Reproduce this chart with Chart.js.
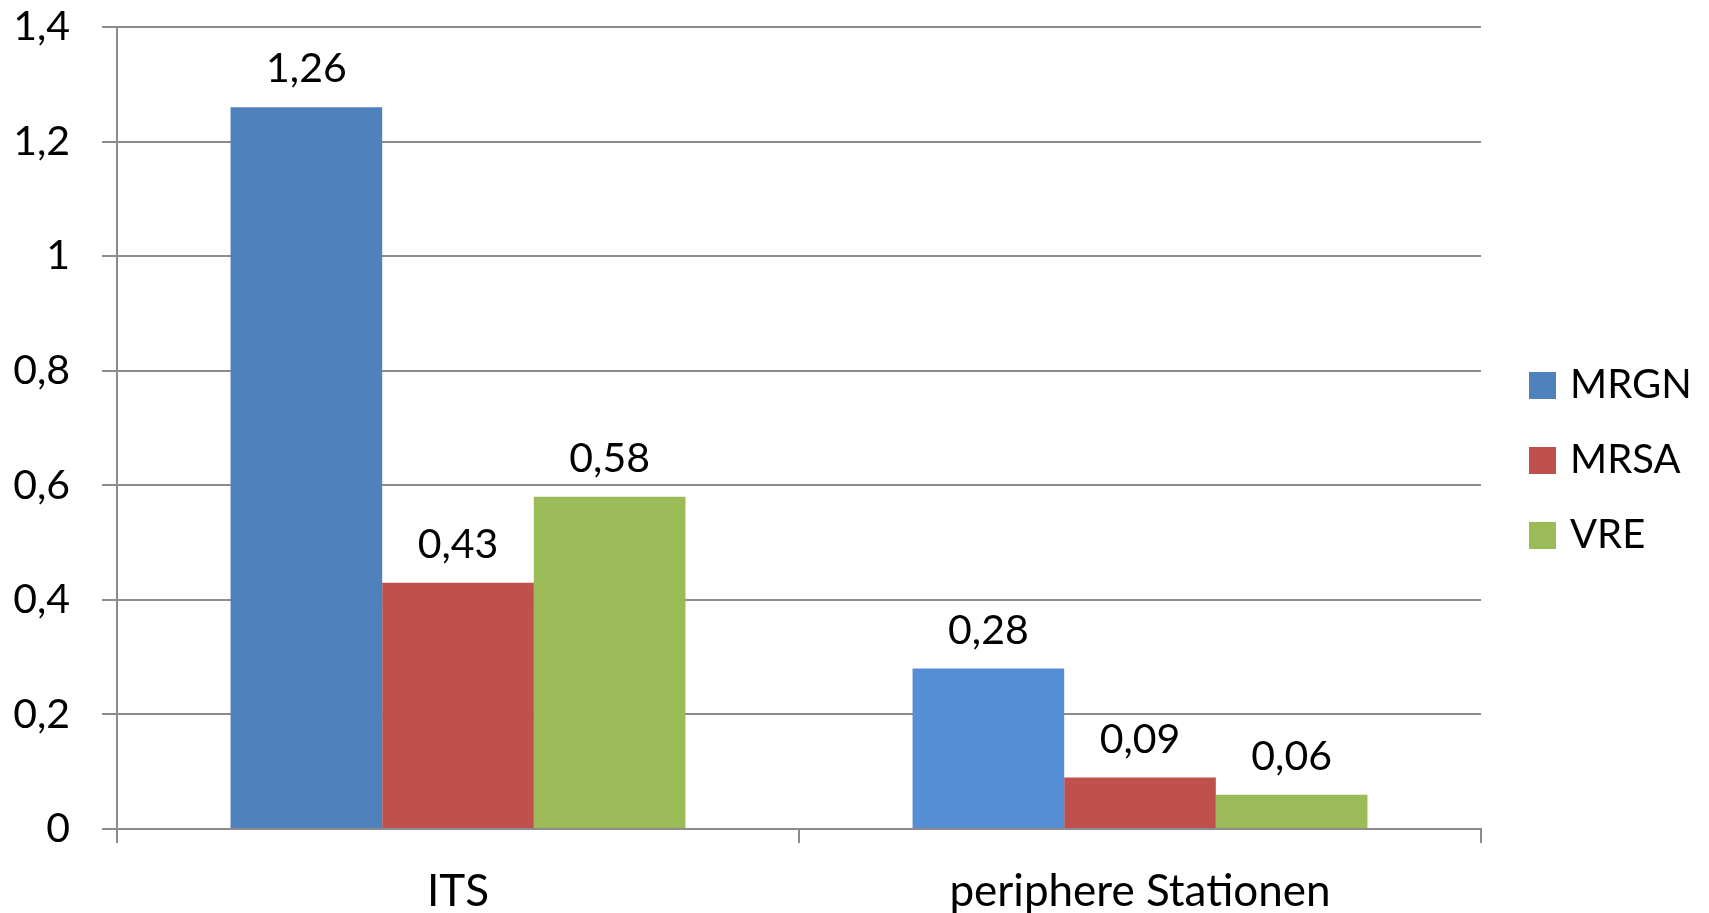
<!DOCTYPE html>
<html>
<head>
<meta charset="utf-8">
<script src="https://cdn.jsdelivr.net/npm/chart.js@4/dist/chart.umd.min.js"></script>
<style>
  html, body { margin: 0; padding: 0; background: #fff; }
  #wrap { width: 1709px; height: 913px; }
</style>
</head>
<body>
<div id="wrap"><canvas id="chart"></canvas></div>
<script>
// Data
const categories = ["ITS", "periphere Stationen"];
const seriesNames = ["MRGN", "MRSA", "VRE"];
const seriesColors = ["#4F81BD", "#C0504D", "#9BBB59"];
const mrgnValues = [1.26, 0.28];
const mrsaValues = [0.43, 0.09];
const vreValues = [0.58, 0.06];
const yTicks = [0, 0.2, 0.4, 0.6, 0.8, 1, 1.2, 1.4];

const FAMILY = "Lato, 'Open Sans', sans-serif";
const FONT = { family: FAMILY, size: 41 };
const GRID = "#8c8c8c";

// German decimal comma
const fmt = (v, digits) => {
  const s = digits === undefined ? String(Math.round(v * 10) / 10) : v.toFixed(digits);
  return s.replace(".", ",");
};

// Value labels above each bar (no datalabels plugin available offline)
const valueLabels = {
  id: "valueLabels",
  afterDatasetsDraw(chart) {
    const ctx = chart.ctx;
    ctx.save();
    ctx.font = `${FONT.size}px ${FAMILY}`;
    ctx.fillStyle = "#000";
    ctx.textAlign = "center";
    ctx.textBaseline = "middle";
    chart.data.datasets.forEach((ds, i) => {
      chart.getDatasetMeta(i).data.forEach((bar, j) => {
        ctx.fillText(fmt(ds.data[j], 2), bar.x, bar.y - 38);
      });
    });
    ctx.restore();
  },
};

// Legend drawn by hand so the gap to the plot area matches the original
const sideLegend = {
  id: "sideLegend",
  afterDraw(chart) {
    const ctx = chart.ctx;
    const n = chart.data.datasets.length;
    const step = 75, box = 27, x = 1529;
    const y0 = chart.height / 2 + 4 - (step * (n - 1)) / 2;
    ctx.save();
    ctx.font = `40px ${FAMILY}`;
    ctx.textBaseline = "middle";
    ctx.textAlign = "left";
    chart.data.datasets.forEach((ds, i) => {
      const cy = y0 + i * step;
      ctx.fillStyle = seriesColors[i];
      ctx.fillRect(x, cy - box / 2, box, box);
      ctx.fillStyle = "#000";
      ctx.fillText(ds.label, x + box + 14, cy);
    });
    ctx.restore();
  },
};

new Chart(document.getElementById("chart"), {
  type: "bar",
  data: {
    labels: categories,
    datasets: [
      {
        label: seriesNames[0],
        data: mrgnValues,
        // second MRGN bar is a slightly brighter blue in the original
        backgroundColor: (c) => (c.dataIndex === 1 ? "#558ED5" : seriesColors[0]),
      },
      { label: seriesNames[1], data: mrsaValues, backgroundColor: seriesColors[1] },
      { label: seriesNames[2], data: vreValues, backgroundColor: seriesColors[2] },
    ].map((d) => ({ ...d, borderWidth: 0, barPercentage: 1, categoryPercentage: 0.667 })),
  },
  plugins: [valueLabels, sideLegend],
  options: {
    responsive: true,
    maintainAspectRatio: false,
    animation: false,
    events: [],
    layout: { padding: { top: 27, right: 228, left: 0, bottom: 0 } },
    scales: {
      x: {
        grid: {
          offset: true,
          drawOnChartArea: false,
          tickLength: 14,
          color: GRID,
          lineWidth: 2,
        },
        border: { color: GRID, width: 2 },
        ticks: { font: { family: FAMILY, size: 44 }, color: "#000", padding: 22 },
        afterFit: (s) => { s.height = 84; },
      },
      y: {
        min: 0,
        max: 1.4,
        afterBuildTicks: (s) => { s.ticks = yTicks.map((v) => ({ value: v })); },
        ticks: { font: FONT, color: "#000", padding: 32, callback: (v) => fmt(v) },
        grid: { color: GRID, lineWidth: 2, tickLength: 15 },
        border: { color: GRID, width: 2 },
        afterFit: (s) => { s.width = 117; s.paddingTop = 0; s.paddingBottom = 0; },
      },
    },
    plugins: {
      legend: { display: false },
      tooltip: { enabled: false },
    },
  },
});
</script>
</body>
</html>
